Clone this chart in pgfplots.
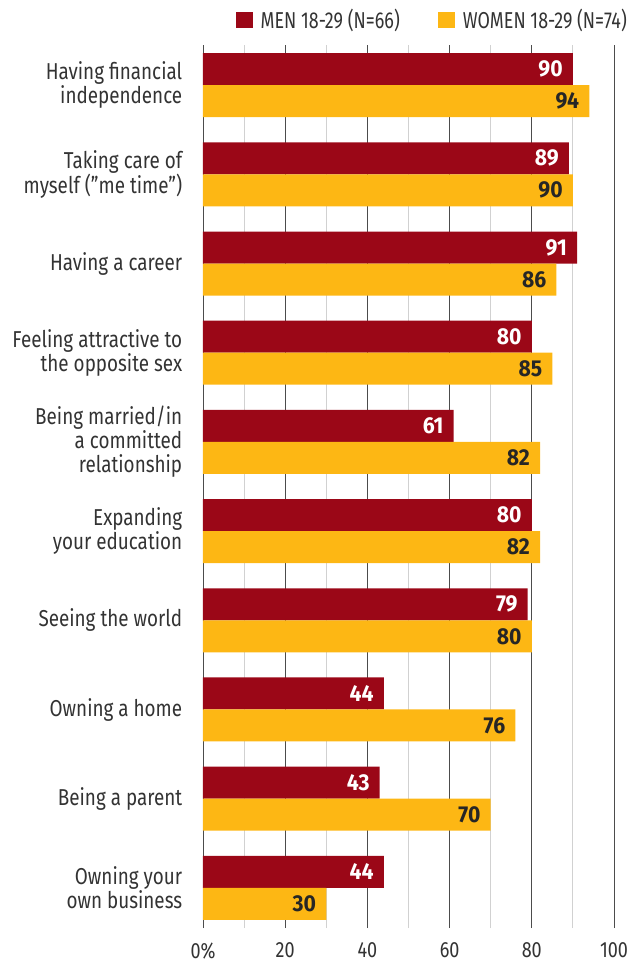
\documentclass[border=0pt]{standalone}
\usepackage{fontspec}
\setmainfont{Fira Sans}[FakeStretch=0.82]
\newfontfamily\valfont{Fira Sans}[FakeStretch=0.92]
\newfontfamily\legfont{Fira Sans}[FakeStretch=0.78]
\usepackage{pgfplots}
\pgfplotsset{compat=1.18}
\definecolor{menred}{HTML}{9B0717}
\definecolor{womenyel}{HTML}{FDB714}
\definecolor{txt}{HTML}{333333}
\begin{document}
\begin{tikzpicture}
\useasboundingbox (-203pt,-40pt) rectangle (436pt,928pt);
\begin{axis}[
    xbar,
    scale only axis,
    width=411pt,
    height=883pt,
    xmin=0, xmax=100,
    ymin=-0.45, ymax=9.45,
    enlargelimits=false,
    bar width=32pt,
    xtick={0,20,40,60,80,100},
    xticklabels={0\%,20,40,60,80,100},
    minor xtick={10,30,50,70,90},
    ytick={0,...,9},
    yticklabels={{Owning your\\own business},{Being a parent},{Owning a home},{Seeing the world},{Expanding\\your education},{Being married/in\\a committed\\relationship},{Feeling attractive to\\the opposite sex},{Having a career},{Taking care of\\myself (''me time'')},{Having financial\\independence}},
    yticklabel style={align=right, font=\fontsize{23}{24}\selectfont, text=txt, xshift=-13pt},
    xticklabel style={font=\fontsize{22}{24}\selectfont, text=txt, yshift=-11pt},
    /pgf/number format/assume math mode=true,
    xmajorgrids, xminorgrids,
    major grid style={draw=black!70, line width=0.9pt},
    minor grid style={draw=black!18, line width=1.1pt},
    axis line style={draw=none},
    tick style={draw=none},
    nodes near coords,
    nodes near coords style={anchor=east, xshift=-10pt, inner sep=0pt, font=\valfont\bfseries\fontsize{23}{24}\selectfont},
    legend columns=2,
    legend style={at={(rel axis cs:1,1)}, anchor=east, xshift=13pt, yshift=25pt, draw=none, fill=none, inner sep=0pt, nodes={inner sep=0pt}, font=\legfont\fontsize{23}{24}\selectfont, text=txt,
        /tikz/every even column/.append style={column sep=38pt}},
    legend image code/.code={\fill[#1] (0pt,-8pt) rectangle (17pt,8pt); \path (25pt,0pt);},
]
\addplot[draw=none, fill=menred, bar shift=16pt, every node near coord/.append style={text=white}]
    coordinates {(44,0) (43,1) (44,2) (79,3) (80,4) (61,5) (80,6) (91,7) (89,8) (90,9)};
\addlegendentry{MEN 18-29 (N=66)}
\addplot[draw=none, fill=womenyel, bar shift=-16pt, every node near coord/.append style={text=black!85}]
    coordinates {(30,0) (70,1) (76,2) (80,3) (82,4) (82,5) (85,6) (86,7) (90,8) (94,9)};
\addlegendentry{WOMEN 18-29 (N=74)}
\end{axis}
\end{tikzpicture}
\end{document}
